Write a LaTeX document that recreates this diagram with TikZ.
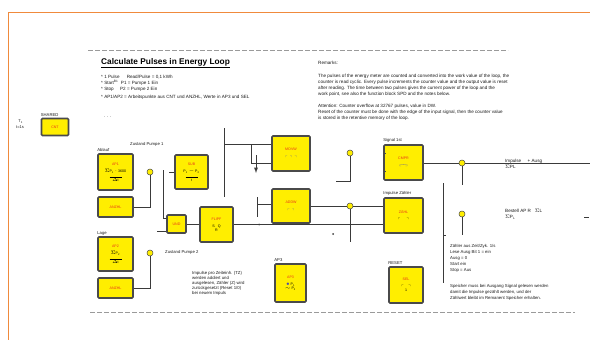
\documentclass[tikz,border=0pt]{standalone}
\usepackage{amssymb}
\usepackage{fontspec}
\setmainfont{Liberation Sans}
\definecolor{blkyellow}{HTML}{FFEE00}
\definecolor{blkgray}{HTML}{4A4A4A}
\definecolor{wiregray}{HTML}{3A3A3A}
\definecolor{redtxt}{HTML}{E8301C}
\definecolor{orangeline}{HTML}{F08A3C}
\definecolor{dashgray}{HTML}{9A9A9A}
\definecolor{txtgray}{HTML}{1A1A1A}
\definecolor{pinblue}{HTML}{4A4AB0}
\begin{document}
\begin{tikzpicture}[x=1pt,y=-1pt,
  blk/.style={draw=blkgray,line width=1.6pt,fill=blkyellow,rounded corners=1pt,inner sep=0pt,align=center,
    font=\fontsize{3.6}{4.2}\selectfont},
  jn/.style={circle,draw=blkgray,line width=0.5pt,fill=blkyellow,minimum size=6pt,inner sep=0pt},
  wire/.style={draw=wiregray,line width=0.9pt},
  dotn/.style={circle,fill=wiregray,minimum size=2pt,inner sep=0pt},
  txt/.style={font=\fontsize{4.6}{6}\selectfont,inner sep=0pt,anchor=north west,align=left,text=txtgray},
  lbl/.style={font=\fontsize{4.2}{4.5}\selectfont,inner sep=0pt,anchor=south west,text=txtgray},
  sep/.style={draw=dashgray,line width=1pt,dash pattern=on 5pt off 2pt}]
\useasboundingbox (0,0) rectangle (590,340);
% frame
\coordinate (f1) at (8,340);
\coordinate (f2) at (8,12);
\coordinate (f3) at (590,12);
\draw[orangeline,line width=1pt] (f1) -- (f2) -- (f3);
% separators
\coordinate (s1) at (88,50);
\coordinate (s2) at (508,50);
\coordinate (s3) at (90,312);
\coordinate (s4) at (575,312);
\draw[sep] (s1) -- (s2);
\draw[sep] (s3) -- (s4);
% title and notes
\node[inner sep=0pt,anchor=west,font=\fontsize{8.3}{9}\selectfont\bfseries] (title) at (101,63)
  {\underline{Calculate Pulses in Energy Loop}};
\node[txt] (notes) at (101,75) {* 1 Pulse\quad\ \ Read/Pulse = 0,1 kWh\\
* Start\textsuperscript{B1}\ \ P1 = Pumpe 1 Ein\\
* Stop\ \ \ \ \ P2 = Pumpe 2 Ein\\[2pt]
* AP1/AP2 = Arbeitspunkte aus CNT und ANZHL, Werte in AP3 und SEL};
\node[txt] (dots) at (104,117) {. . .};
\node[txt] (remh) at (318,61) {Remarks:};
\node[txt] (rem1) at (318,74) {The pulses of the energy meter are counted and converted into the work value of the loop, the\\
counter is read cyclic. Every pulse increments the counter value and the output value is reset\\
after reading. The time between two pulses gives the current power of the loop and the\\
work point, see also the function block SPD and the notes below.};
\node[txt] (rem2) at (318,104) {Attention: Counter overflow at 32767 pulses, value in DW.\\
Reset of the counter must be done with the edge of the input signal, then the counter value\\
is stored in the retentive memory of the loop.};
% left symbol and shared block
\node[txt,font=\fontsize{4}{6}\selectfont] (sym) at (16,120) {\ \ T\textsubscript{1}\\ t=1s};
\node[blk,minimum width=27pt,minimum height=17pt] (B0) at (55,127) {\textcolor{redtxt}{CNT}};
\node[lbl] (B0l) at ([yshift=0.5pt]B0.north west) {SHARED};
% blocks
\node[blk,minimum width=35pt,minimum height=36pt] (B1) at (115.5,172)
  {\textcolor{redtxt}{AP1}\\[3pt] $\Sigma$P\textsubscript{1} $\cdot$ 3600\\ \rule{12pt}{0.3pt}\\ $\Delta$t};
\node[lbl] (B1l) at ([yshift=1pt]B1.north west) {Ablauf};
\node[blk,minimum width=33pt,minimum height=34pt] (B2) at (191.5,172)
  {\textcolor{redtxt}{SUB}\\[3pt] P\textsubscript{1} $-$ P\textsubscript{2}\\ \rule{12pt}{0.3pt}\\ t};
\node[lbl] (B2l) at (130,147) {Zustand Pumpe 1};
\node[blk,minimum width=35pt,minimum height=20pt] (B3) at (115.5,207) {\textcolor{redtxt}{ANZHL}};
\node[blk,minimum width=35pt,minimum height=34pt] (B4) at (115.5,254)
  {\textcolor{redtxt}{AP2}\\[3pt] $\Sigma$P\textsubscript{2}\\ \rule{12pt}{0.3pt}\\ $\Delta$t};
\node[lbl] (B4l) at ([yshift=1pt]B4.north west) {Lage};
\node[blk,minimum width=35pt,minimum height=20pt] (B5) at (115.5,288) {\textcolor{redtxt}{ANZHL}};
\node[blk,minimum width=19pt,minimum height=18pt] (B6) at (176.5,224) {\textcolor{redtxt}{UND}};
\node[blk,minimum width=33pt,minimum height=35pt] (B7) at (216.5,224.5)
  {\textcolor{redtxt}{FLIPF}\\[3pt] S\ \ \ Q\\ R};
\node[blk,minimum width=38pt,minimum height=35pt] (B8) at (291,153.5)
  {\textcolor{redtxt}{MOVW}\\[4pt] \textcolor{pinblue}{$\ulcorner\ \ \urcorner\ \ \urcorner$}};
\node[blk,minimum width=38pt,minimum height=34pt] (B9) at (291,206)
  {\textcolor{redtxt}{ADDW}\\[4pt] \textcolor{pinblue}{$\ulcorner\ \ \urcorner$}};
\node[blk,minimum width=39pt,minimum height=35pt] (B10) at (403.5,162.5)
  {\textcolor{redtxt}{CMPR}\\[3pt] \textcolor{pinblue}{$\llcorner\!\!-\!\!-\!\!\lrcorner$}};
\node[lbl] (B10l) at ([yshift=1.5pt]B10.north west) {Signal 1st};
\node[blk,minimum width=39pt,minimum height=35pt] (B11) at (403.5,215.5)
  {\textcolor{redtxt}{ZÄHL}\\[3pt] $\ulcorner$\ \ \ \ \ \ $\urcorner$};
\node[lbl] (B11l) at ([yshift=1.5pt]B11.north west) {Impulse Zähler};
\node[blk,minimum width=31pt,minimum height=38pt] (B12) at (290.5,283)
  {\textcolor{redtxt}{AP3}\\[3pt] \textcolor{pinblue}{$\bullet$}\ P\textsubscript{1}\\ $\sim$ P\textsubscript{2}};
\node[lbl] (B12l) at ([yshift=1.5pt]B12.north west) {AP3};
\node[blk,minimum width=34pt,minimum height=36pt] (B13) at (406,285)
  {\textcolor{redtxt}{SEL}\\[3pt] $\ulcorner$\ \ \ \ $\urcorner$\\ 1};
\node[lbl] (B13l) at ([yshift=1.5pt]B13.north west) {RESET};
% junctions
\node[jn] (J1) at (150,172) {};
\node[jn] (J2) at (150,253) {};
\node[jn] (J3) at (350,153) {};
\node[jn] (J4) at (350,206) {};
\node[jn] (J5) at (462,163) {};
\node[jn] (J6) at (462,214) {};
% wires left part
\draw[wire] (J1) |- (B3);
\draw[wire] (J2) |- (B5);
\coordinate (c1) at (163,170);
\draw[wire] (c1) |- ([yshift=6pt]B6.west);
\draw[wire] ([yshift=-7pt]B6.west) -- ++(-9,0) coordinate (c2);
\draw[wire] (B2.west) -- ++(-5,0) coordinate (c3);
\draw[wire] (B6.east |- B7.west) -- (B7.west);
\draw[wire] (B7.east) -- (B7.east -| B11.west);
\node[dotn] (d1) at (259,224.5) {};
% wires to B8
\coordinate (v1) at (224,128);
\coordinate (v2) at (224,197);
\draw[wire] (v1) -- (v2);
\coordinate (t1) at (224,144);
\draw[wire] (t1) -- (t1 -| B8.west);
\coordinate (t2) at (251,144);
\draw[wire] (t2) |- ([yshift=-9.5pt]B8.west);
\coordinate (t3) at (256,155);
\coordinate (t4) at (256,173);
\draw[wire,-latex] (t3) -- (t4);
% wires to B9
\coordinate (u1) at (257,197);
\coordinate (u2) at (257,217);
\draw[wire] (u1) -- (u2);
\coordinate (u3) at (257,204);
\draw[wire] (u3) -- (u3 -| B9.west);
\draw[wire] (B9.east |- J4) -- (J4) -- (J4 -| B11.west);
\coordinate (j4e) at (350,242);
\draw[wire] (J4) -- (j4e);
\node[dotn] (d2) at (333,234) {};
\coordinate (j3b) at (336,181);
\draw[wire] (J3) |- (j3b);
% right part
\coordinate (e1) at (590,163);
\draw[wire] (B10.east |- J5) -- (J5) -- (e1);
\coordinate (j5e) at (462,185);
\draw[wire] (J5) -- (j5e);
\coordinate (j6e) at (462,235);
\draw[wire] (J6) -- (j6e);
\coordinate (k1) at (443,183);
\coordinate (k2) at (443,283);
\draw[wire] (k1) -- (k2);
\coordinate (k3) at (443,235);
\draw[wire] (k3) -- ++(3,0) coordinate (k4);
\coordinate (m1) at (584,217);
\draw[wire] (m1) -- ++(5,0) coordinate (m2);
% pin stubs on B10
\draw[blkgray,line width=0.6pt] ([yshift=9pt]B10.west) -- ++(3,0) coordinate (p1);
\draw[blkgray,line width=0.6pt] ([yshift=-9pt]B10.west) -- ++(3,0) coordinate (p2);
% right texts
\node[txt,anchor=west] (r1) at (505,164) {Impulse\ \ \ \ \ + Ausg\\ $\Sigma$PL};
\node[txt,anchor=west] (r2) at (505,214) {Bestell AP R\ \ \ $\Sigma$L\\ $\Sigma$P\textsubscript{L}};
\node[txt,font=\fontsize{4.3}{6}\selectfont] (r3) at (450,244) {Zähler aus Zeit/Zyk. 1/s\\ Lese Ausg Bit 1 = ein\\ Ausg = 0\\ Start ein\\ Stop = Aus};
\node[txt,font=\fontsize{4.3}{6.3}\selectfont] (r4) at (450,284) {Speicher muss bei Ausgang Signal gelesen werden\\ damit die Impulse gezählt werden, und der\\ Zählwert bleibt im Remanent Speicher erhalten.};
\node[txt,font=\fontsize{4.3}{5}\selectfont] (r5) at (192,271) {Impulse pro Zeiteinh. (TZ)\\ werden addiert und\\ ausgelesen, Zähler (Z) wird\\ zurückgesetzt (Reset 1/0)\\ bei neuem Impuls};
\node[lbl] (z2) at (165,255) {Zustand Pumpe 2};
\end{tikzpicture}
\end{document}
